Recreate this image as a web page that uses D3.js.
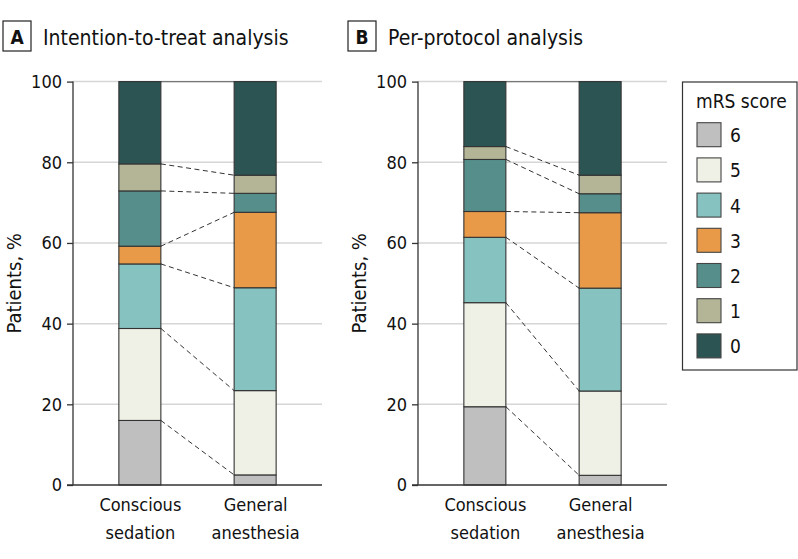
<!DOCTYPE html>
<html>
<head>
<meta charset="utf-8">
<script src="https://cdn.jsdelivr.net/npm/d3@7"></script>
<style>
  body { margin: 0; background: #fff; }
  svg { display: block; font-family: "Liberation Sans Narrow", "DejaVu Sans Condensed", "Roboto", sans-serif; }
</style>
</head>
<body>
<div id="chart"></div>
<script>
// Groups and mRS scores (0 = best, 6 = death)
const groups = ["Conscious sedation", "General anesthesia"];
const scores = ["6", "5", "4", "3", "2", "1", "0"];
const yTicks = [0, 20, 40, 60, 80, 100];

// Percent of patients per mRS score, listed 6 -> 0 (bottom to top)
const ittSedation = [16.0, 22.8, 16.0, 4.4, 13.7, 6.7, 20.4];
const ittAnesthesia = [2.5, 20.9, 25.5, 18.7, 4.7, 4.5, 23.2];
const ppSedation = [19.4, 25.8, 16.2, 6.4, 12.9, 3.2, 16.1];
const ppAnesthesia = [2.4, 20.9, 25.5, 18.7, 4.7, 4.6, 23.2];

const panelLetters = ["A", "B"];
const panelTitles = ["Intention-to-treat analysis", "Per-protocol analysis"];
const scoreColors = ["#bfbfbf", "#f0f1e6", "#85c2c0", "#e89a48", "#568e8c", "#b3b596", "#2b5453"];

const width = 798, height = 559;
const svg = d3.select("#chart").append("svg").attr("width", width).attr("height", height);

const color = d3.scaleOrdinal().domain(scores).range(scoreColors);
const y = d3.scaleLinear().domain([0, 100]).range([485, 81.6]);
const barW = 42;

// Turn two value arrays into rows for d3.stack
function toRows(a, b) {
    return groups.map((g, gi) => {
        const row = { group: g };
        scores.forEach((s, i) => row[s] = gi === 0 ? a[i] : b[i]);
        return row;
    });
}

const panels = [
    { rows: toRows(ittSedation, ittAnesthesia), x0: 73 },
    { rows: toRows(ppSedation, ppAnesthesia), x0: 418 }
];

panels.forEach((p, pi) => {
    const g = svg.append("g");
    const x = d3.scalePoint().domain(groups).range([p.x0, p.x0 + 249]).padding(0.58);
    const series = d3.stack().keys(scores)(p.rows);

    // Panel letter box + title
    const boxX = p.x0 - 70;
    g.append("rect").attr("x", boxX).attr("y", 21).attr("width", 28).attr("height", 30)
        .attr("fill", "#fff").attr("stroke", "#222").attr("stroke-width", 1.2);
    g.append("text").attr("x", boxX + 14).attr("y", 43.5).attr("text-anchor", "middle")
        .attr("font-size", 19).attr("font-weight", "bold").attr("fill", "#111").text(panelLetters[pi]);
    g.append("text").attr("x", boxX + 40).attr("y", 44.5)
        .attr("font-size", 21).attr("fill", "#111").text(panelTitles[pi]);

    // Gridlines
    g.append("g").selectAll("line").data(yTicks.filter(d => d > 0)).join("line")
        .attr("x1", p.x0).attr("x2", p.x0 + 249)
        .attr("y1", d => y(d)).attr("y2", d => y(d))
        .attr("stroke", "#d6d6d6").attr("stroke-width", 1.5);

    // Solid connector along the top of the bars
    g.append("line")
        .attr("x1", x(groups[0]) + barW / 2).attr("x2", x(groups[1]) - barW / 2)
        .attr("y1", y(100)).attr("y2", y(100))
        .attr("stroke", "#777").attr("stroke-width", 1.3);

    // Dashed connectors between matching stack boundaries
    const bounds = series.slice(0, -1).map(s => [s[0][1], s[1][1]]);
    g.append("g").selectAll("line").data(bounds).join("line")
        .attr("x1", x(groups[0]) + barW / 2).attr("x2", x(groups[1]) - barW / 2)
        .attr("y1", d => y(d[0])).attr("y2", d => y(d[1]))
        .attr("stroke", "#333").attr("stroke-width", 1).attr("stroke-dasharray", "5,3.5");

    // Stacked bars
    g.append("g").selectAll("g").data(series).join("g")
        .attr("fill", d => color(d.key))
        .selectAll("rect").data(d => d).join("rect")
        .attr("x", d => x(d.data.group) - barW / 2)
        .attr("width", barW)
        .attr("y", d => y(d[1]))
        .attr("height", d => y(d[0]) - y(d[1]))
        .attr("stroke", "#333").attr("stroke-width", 1.1);

    // Y axis
    const yAxis = g.append("g").attr("transform", `translate(${p.x0},0)`)
        .call(d3.axisLeft(y).tickValues(yTicks).tickSize(6).tickPadding(5));
    yAxis.select(".domain").attr("stroke", "#333").attr("stroke-width", 1.3).attr("d", `M0,${y(100)}V${y(0)}`);
    yAxis.selectAll(".tick line").attr("stroke", "#333").attr("stroke-width", 1.3);
    yAxis.selectAll(".tick text").attr("font-size", 18).attr("fill", "#111").attr("font-family", null);
    yAxis.attr("font-family", null);

    // X axis
    const xAxis = g.append("g").attr("transform", `translate(0,${y(0)})`)
        .call(d3.axisBottom(x).tickSize(0).tickPadding(0).tickFormat(""));
    xAxis.select(".domain").attr("stroke", "#333").attr("stroke-width", 1.3).attr("d", `M${p.x0 - 6},0H${p.x0 + 249}`);
    xAxis.attr("font-family", null);
    xAxis.selectAll(".tick").each(function(d) {
        const words = d.split(" ");
        const t = d3.select(this).append("text").attr("fill", "#111").attr("font-size", 18)
            .attr("text-anchor", "middle");
        words.forEach((w, i) => t.append("tspan").attr("x", 0).attr("y", 26 + i * 28).text(w));
    });

    // Y label
    g.append("text").attr("transform", `translate(${p.x0 - 52},${y(50)}) rotate(-90)`)
        .attr("text-anchor", "middle").attr("font-size", 20).attr("fill", "#111")
        .text("Patients, %");
});

// Legend
const lg = svg.append("g");
lg.append("rect").attr("x", 682.5).attr("y", 82).attr("width", 114.5).attr("height", 288)
    .attr("fill", "#fff").attr("stroke", "#333").attr("stroke-width", 1.2);
lg.append("text").attr("x", 696).attr("y", 108).attr("font-size", 19).attr("fill", "#111").text("mRS score");
const items = lg.selectAll("g.item").data(scores).join("g").attr("class", "item")
    .attr("transform", (d, i) => `translate(697,${122.7 + i * 35.2})`);
items.append("rect").attr("width", 24).attr("height", 24)
    .attr("fill", d => color(d)).attr("stroke", "#444").attr("stroke-width", 1.1);
items.append("text").attr("x", 33).attr("y", 19.5).attr("font-size", 19).attr("fill", "#111").text(d => d);
</script>
</body>
</html>
